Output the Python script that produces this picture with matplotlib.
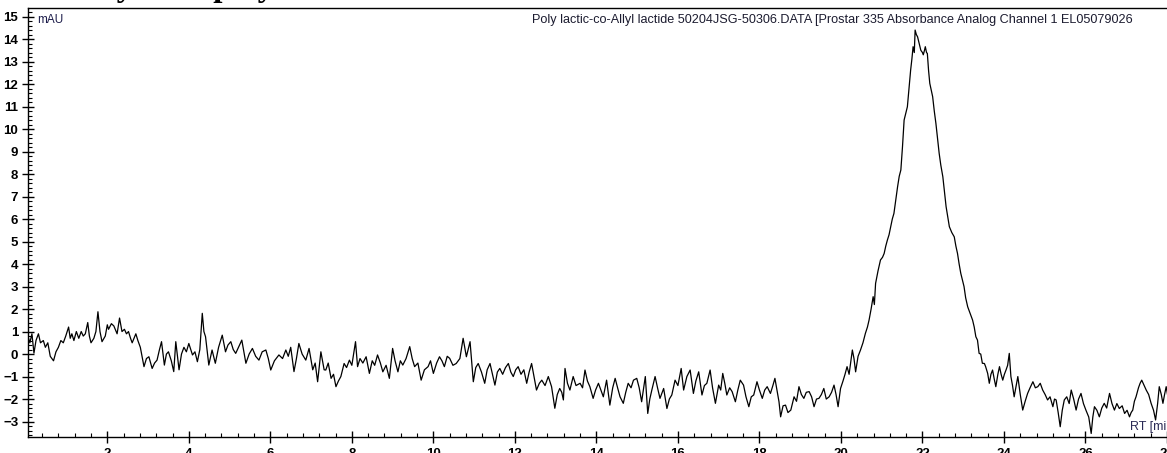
import matplotlib
matplotlib.use("Agg")
import matplotlib.pyplot as plt
from matplotlib.ticker import MultipleLocator
import numpy as np

# trace, (retention time [min], signal [mAU])
seg_start = [(0.05, 0.8), (0.1, 0.5), (0.15, 0.9), (0.2, 0.04), (0.25, 0.6), (0.31, 0.9), (0.36, 0.5),
             (0.43, 0.6), (0.48, 0.3), (0.54, 0.5), (0.6, -0.1), (0.68, -0.3), (0.74, 0.1), (0.8, 0.3),
             (0.86, 0.6), (0.92, 0.5), (0.98, 0.8), (1.05, 1.2), (1.09, 0.7), (1.13, 0.9), (1.18, 0.6),
             (1.24, 1.0), (1.3, 0.7), (1.36, 1.0), (1.41, 0.8), (1.46, 0.9), (1.52, 1.4), (1.56, 0.8),
             (1.6, 0.5), (1.67, 0.7), (1.72, 1.0), (1.77, 1.88), (1.82, 1.0), (1.87, 0.55), (1.95, 0.8),
             (2.0, 1.3), (2.03, 1.1), (2.1, 1.35), (2.16, 1.25), (2.24, 0.9), (2.3, 1.6), (2.36, 1.0),
             (2.42, 1.1), (2.47, 0.9), (2.52, 1.0), (2.57, 0.7), (2.61, 0.5), (2.7, 0.9), (2.75, 0.6),
             (2.81, 0.3), (2.9, -0.56), (2.96, -0.2), (3.02, -0.12), (3.1, -0.64), (3.16, -0.4),
             (3.22, -0.27), (3.28, 0.2), (3.33, 0.55), (3.4, -0.49), (3.45, 0.0), (3.5, 0.1), (3.57, -0.3),
             (3.63, -0.78), (3.68, 0.55), (3.76, -0.7), (3.82, 0.0), (3.88, 0.3), (3.94, 0.1), (4.0, 0.47),
             (4.09, -0.04), (4.15, 0.1), (4.21, -0.34), (4.27, 0.2), (4.33, 1.81), (4.37, 1.0), (4.41, 0.77),
             (4.49, -0.49), (4.57, 0.18), (4.65, -0.41), (4.73, 0.3), (4.82, 0.84), (4.9, 0.1), (4.96, 0.4),
             (5.03, 0.55), (5.09, 0.2), (5.15, 0.03), (5.22, 0.3), (5.3, 0.62), (5.35, 0.1), (5.4, -0.41),
             (5.48, 0.0), (5.56, 0.25), (5.64, -0.1), (5.72, -0.27), (5.8, 0.1), (5.89, 0.18), (5.95, -0.2),
             (6.01, -0.71), (6.1, -0.3), (6.21, -0.04), (6.3, -0.2), (6.38, 0.18), (6.44, -0.1), (6.5, 0.3),
             (6.58, -0.78), (6.64, -0.2), (6.7, 0.47), (6.78, 0.0), (6.87, -0.27), (6.95, 0.25), (7.04, -0.7),
             (7.1, -0.4), (7.16, -1.23), (7.24, 0.1), (7.32, -0.7)]

seg_middle = [(7.36, -0.71), (7.42, -0.4), (7.49, -1.08), (7.55, -0.9), (7.61, -1.45), (7.67, -1.2),
              (7.73, -1.0), (7.81, -0.42), (7.87, -0.6), (7.94, -0.27), (8.0, -0.5), (8.09, 0.55),
              (8.14, -0.56), (8.2, -0.2), (8.27, -0.4), (8.35, -0.12), (8.43, -0.86), (8.5, -0.3),
              (8.56, -0.5), (8.63, -0.04), (8.7, -0.4), (8.76, -0.79), (8.84, -0.5), (8.92, -1.08),
              (9.0, 0.25), (9.06, -0.3), (9.13, -0.79), (9.19, -0.3), (9.25, -0.49), (9.33, -0.2),
              (9.42, 0.33), (9.48, -0.2), (9.54, -0.56), (9.62, -0.4), (9.7, -1.16), (9.78, -0.7),
              (9.87, -0.56), (9.93, -0.3), (10.0, -0.86), (10.08, -0.4), (10.15, -0.12), (10.21, -0.3),
              (10.27, -0.56), (10.34, -0.1), (10.4, -0.19), (10.48, -0.5), (10.56, -0.42), (10.65, -0.2),
              (10.73, 0.7), (10.81, -0.12), (10.9, 0.55), (10.98, -1.23), (11.04, -0.6), (11.1, -0.42),
              (11.18, -0.8), (11.26, -1.3), (11.32, -0.7), (11.39, -0.42), (11.45, -0.9), (11.51, -1.38),
              (11.57, -0.8), (11.63, -0.64), (11.7, -0.9), (11.77, -0.6), (11.84, -0.42), (11.9, -0.8),
              (11.96, -1.0), (12.02, -0.7), (12.08, -0.56), (12.15, -0.9), (12.22, -0.7), (12.29, -1.3),
              (12.35, -0.8), (12.41, -0.42), (12.47, -1.0), (12.53, -1.6), (12.6, -1.3), (12.66, -1.16),
              (12.74, -1.4), (12.82, -1.0), (12.9, -1.45), (12.98, -2.41), (13.04, -1.8), (13.1, -1.53),
              (13.15, -1.7), (13.19, -2.04), (13.23, -0.64), (13.29, -1.3), (13.35, -1.6), (13.43, -1.0),
              (13.5, -1.4), (13.6, -1.3), (13.66, -1.5), (13.72, -0.71), (13.78, -1.2), (13.84, -1.45),
              (13.92, -1.97), (13.98, -1.6), (14.05, -1.3), (14.11, -1.6), (14.17, -1.9), (14.25, -1.16),
              (14.33, -2.27), (14.4, -1.5), (14.46, -1.08), (14.52, -1.5), (14.58, -1.9), (14.66, -2.19),
              (14.72, -1.7), (14.78, -1.3), (14.85, -1.5), (14.91, -1.16), (14.99, -1.08), (15.05, -1.5),
              (15.11, -2.12), (15.2, -1.0), (15.26, -2.64), (15.31, -2.0), (15.36, -1.6), (15.44, -1.0),
              (15.5, -1.5), (15.56, -1.97), (15.65, -1.53), (15.73, -2.42), (15.79, -2.0), (15.85, -1.82),
              (15.93, -1.16), (16.0, -1.4), (16.08, -0.64), (16.14, -1.6), (16.22, -1.0), (16.3, -0.71),
              (16.38, -1.75), (16.44, -1.2), (16.51, -0.79), (16.59, -1.82), (16.65, -1.4), (16.71, -1.3),
              (16.79, -0.71), (16.85, -1.5), (16.92, -2.19), (17.0, -1.38), (17.05, -1.6), (17.1, -0.86),
              (17.15, -1.3), (17.2, -1.82), (17.27, -1.5), (17.33, -1.67), (17.41, -2.12), (17.47, -1.6),
              (17.53, -1.16), (17.61, -1.38), (17.67, -1.9), (17.74, -2.34), (17.8, -1.9), (17.86, -1.82),
              (17.94, -1.23), (18.0, -1.6), (18.07, -1.97), (18.13, -1.6), (18.19, -1.45), (18.27, -1.75),
              (18.33, -1.4), (18.38, -1.08), (18.44, -1.7), (18.48, -2.12), (18.52, -2.79), (18.58, -2.3),
              (18.64, -2.27), (18.7, -2.6), (18.77, -2.49), (18.85, -1.9), (18.91, -2.1), (18.97, -1.45),
              (19.03, -1.8), (19.09, -1.97), (19.15, -1.7), (19.22, -1.67), (19.28, -1.9), (19.34, -2.34),
              (19.4, -2.0), (19.46, -1.97), (19.52, -1.8), (19.58, -1.53), (19.64, -2.0), (19.71, -1.9),
              (19.77, -1.7), (19.83, -1.38), (19.88, -1.8), (19.93, -2.34), (19.99, -1.53)]

seg_peak = [(20.05, -1.2), (20.1, -0.9), (20.15, -0.56), (20.2, -0.9), (20.28, 0.18), (20.32, -0.2),
            (20.36, -0.79), (20.42, -0.1), (20.48, 0.18), (20.54, 0.5), (20.6, 0.92), (20.65, 1.2),
            (20.69, 1.51), (20.74, 2.0), (20.79, 2.55), (20.82, 2.2), (20.85, 3.14), (20.91, 3.7),
            (20.97, 4.18), (21.02, 4.3), (21.06, 4.47), (21.1, 4.8), (21.14, 5.07), (21.18, 5.3),
            (21.22, 5.66), (21.26, 6.0), (21.3, 6.25), (21.35, 6.9), (21.39, 7.44), (21.43, 7.9),
            (21.47, 8.18), (21.51, 9.21), (21.55, 10.4), (21.59, 10.7), (21.63, 10.99), (21.67, 11.8),
            (21.71, 12.62), (21.74, 13.1), (21.77, 13.66), (21.8, 13.4), (21.82, 14.4), (21.85, 14.2),
            (21.88, 14.1), (21.92, 13.8), (21.96, 13.5), (22.0, 13.4), (22.02, 13.3), (22.05, 13.5),
            (22.07, 13.66), (22.1, 13.4), (22.12, 13.36), (22.15, 12.6), (22.18, 12.03), (22.22, 11.7),
            (22.25, 11.44), (22.29, 10.8), (22.33, 10.25), (22.37, 9.6), (22.41, 8.92), (22.45, 8.4),
            (22.5, 7.88), (22.54, 7.2), (22.58, 6.55), (22.62, 6.1), (22.66, 5.66), (22.72, 5.4),
            (22.78, 5.21), (22.82, 4.8), (22.86, 4.47), (22.9, 4.0), (22.94, 3.59), (22.98, 3.3),
            (23.02, 3.0), (23.06, 2.5), (23.11, 2.1), (23.17, 1.8), (23.23, 1.51), (23.27, 1.2),
            (23.31, 0.77), (23.35, 0.62), (23.39, 0.03), (23.43, 0.0), (23.47, -0.41), (23.52, -0.42),
            (23.55, -0.56), (23.6, -0.86), (23.64, -1.3), (23.68, -0.9), (23.72, -0.71), (23.76, -1.1),
            (23.8, -1.45), (23.85, -0.9), (23.89, -0.56), (23.93, -0.9), (23.97, -1.16)]

seg_tail = [(24.01, -0.9), (24.05, -0.71), (24.09, -0.5), (24.13, 0.03), (24.17, -1.0), (24.21, -1.4),
            (24.25, -1.9), (24.3, -1.4), (24.34, -1.0), (24.4, -1.8), (24.46, -2.49), (24.52, -2.1),
            (24.58, -1.75), (24.64, -1.5), (24.71, -1.23), (24.77, -1.5), (24.83, -1.45), (24.89, -1.3),
            (24.95, -1.6), (25.01, -1.8), (25.07, -2.04), (25.13, -1.9), (25.2, -2.34), (25.24, -2.0),
            (25.28, -2.04), (25.33, -2.6), (25.38, -3.23), (25.43, -2.5), (25.48, -2.04), (25.54, -1.9),
            (25.6, -2.2), (25.65, -1.6), (25.71, -2.0), (25.77, -2.49), (25.83, -2.0), (25.89, -1.75),
            (25.95, -2.2), (26.01, -2.49), (26.08, -2.8), (26.14, -3.53), (26.18, -2.8), (26.22, -2.34),
            (26.28, -2.5), (26.34, -2.79), (26.4, -2.4), (26.46, -2.19), (26.52, -2.4), (26.59, -1.75),
            (26.65, -2.2), (26.71, -2.49), (26.77, -2.2), (26.83, -2.42), (26.9, -2.3), (26.96, -2.64),
            (27.02, -2.5), (27.08, -2.79), (27.12, -2.6), (27.16, -2.49), (27.2, -2.1), (27.24, -1.9),
            (27.3, -1.5), (27.34, -1.3), (27.38, -1.16), (27.44, -1.4), (27.49, -1.6), (27.55, -1.8),
            (27.61, -2.19), (27.67, -2.5), (27.72, -2.93), (27.77, -2.2), (27.81, -1.45), (27.86, -1.8),
            (27.9, -2.19), (27.94, -1.8), (27.98, -1.45), (28.02, -1.9), (28.06, -2.12)]

header = "Poly lactic-co-Allyl lactide 50204JSG-50306.DATA [Prostar 335 Absorbance Analog Channel 1 EL05079026"
title = "Analysis of polymer"

rt, mau = np.array(seg_start + seg_middle + seg_peak + seg_tail).T

W, H = 1167, 453
fig = plt.figure(figsize=(W / 100, H / 100), dpi=100)
ax = fig.add_axes([28 / W, 15.7 / H, (W - 28) / W, (437.3 - 8) / H])

ax.plot(rt, mau, color='black', lw=0.9)

ax.set_xlim(0.054, 28.0)
ax.set_ylim(-3.7, 15.38)
ax.spines['right'].set_visible(False)
for s in ax.spines.values():
    s.set_linewidth(1.0)

ax.xaxis.set_major_locator(MultipleLocator(2))
ax.xaxis.set_minor_locator(MultipleLocator(0.4))
ax.yaxis.set_major_locator(MultipleLocator(1))
ax.yaxis.set_minor_locator(MultipleLocator(0.2))
ax.tick_params(axis='both', which='major', direction='inout', length=8, width=1,
               labelsize=9.5, pad=3)
ax.tick_params(axis='x', which='major', pad=4)
ax.tick_params(axis='both', which='minor', direction='in', length=3, width=0.8)
for lab in ax.get_xticklabels() + ax.get_yticklabels():
    lab.set_fontweight('bold')
    lab.set_family('Liberation Sans')

fig.text(37 / W, 1 - 20 / H, "mAU", fontsize=8.5, family='Liberation Sans',
         color='#1c1c4a', va='center', ha='left')
fig.text(1133 / W, 1 - 20 / H, header, fontsize=9.1, family='Liberation Sans',
         color='#1c1c30', ha='right', va='center')
fig.text(1130 / W, 1 - 427 / H, "RT [min]", fontsize=9, family='Liberation Sans',
         color='#2a2a55', ha='left', va='center')
fig.text(48 / W, 1 + 4 / H, title, fontsize=24, family='Liberation Serif',
         fontweight='bold', ha='left', va='baseline')

fig.savefig('out.png', dpi=100)
